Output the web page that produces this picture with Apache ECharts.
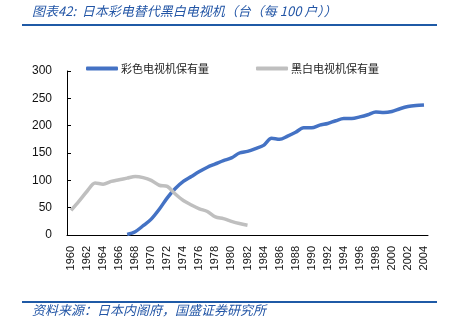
<!DOCTYPE html>
<html><head><meta charset="utf-8">
<script src="https://cdn.jsdelivr.net/npm/echarts@6/dist/echarts.min.js"></script>
<style>html,body{margin:0;padding:0;background:#fff}#c{width:456px;height:332px}</style>
</head><body><div id="c"></div>
<script>
const years = [];
for (let y = 1960; y <= 2004; y++) years.push(String(y));
const colorTV = [null,null,null,null,null,null,null,1,6,17,29,47,68,85,98,107,116,124,130,136,141,150,153,158,164,177,175,181,188,196,196,201,204,209,213,213,216,220,225,224,226,231,235,237,238];
const bwTV = [45,62,80,95,93,98,101,104,107,105,100,91,89,75,63,55,48,43,33,30,25,21,18,null,null,null,null,null,null,null,null,null,null,null,null,null,null,null,null,null,null,null,null,null,null];
const seriesNames = ['彩色电视机保有量','黑白电视机保有量'];
const titleText = '图表42:  日本彩电替代黑白电视机（台（每 100 户））';
const sourceText = '资料来源：日本内阁府，国盛证券研究所';
const FONT = '"Liberation Sans","Noto Sans CJK SC",sans-serif';
const CJK = '"Noto Sans CJK SC",sans-serif';
const chart = echarts.init(document.getElementById('c'));
chart.setOption({
  animation:false,
  textStyle:{fontFamily:FONT},
  grid:{left:67,right:28,top:71,bottom:97,containLabel:false},
  legend:{
    left:81, top:58, itemWidth:32, itemHeight:4, itemGap:47, icon:'roundRect',
    textStyle:{fontSize:11,color:'#222',fontFamily:CJK,padding:[0,0,0,-2]},
    data:seriesNames
  },
  xAxis:{
    type:'category', data:years, boundaryGap:true,
    axisLine:{lineStyle:{color:'#000',width:1}},
    axisTick:{inside:true,length:4,interval:0,lineStyle:{color:'#000'}},
    axisLabel:{interval:1,rotate:90,fontSize:11,color:'#111',margin:11}
  },
  yAxis:{
    type:'value', min:0, max:300, interval:50,
    axisLine:{show:true,lineStyle:{color:'#000',width:1}},
    axisTick:{show:true,inside:true,length:4,lineStyle:{color:'#000'}},
    axisLabel:{fontSize:12,color:'#111',margin:15},
    splitLine:{show:false}
  },
  series:[
    {name:seriesNames[0],type:'line',data:colorTV,smooth:0.3,showSymbol:false,symbol:'none',
     lineStyle:{color:'#4472C4',width:3.5},itemStyle:{color:'#4472C4'}},
    {name:seriesNames[1],type:'line',data:bwTV,smooth:0.3,showSymbol:false,symbol:'none',
     lineStyle:{color:'#BFBFBF',width:3.5},itemStyle:{color:'#BFBFBF'}}
  ],
  graphic:[
    {type:'text',left:32,top:5,style:{text:titleText,font:'italic 13px '+CJK,fill:'#2356A6'}},
    {type:'rect',shape:{x:22,y:24,width:415,height:2},style:{fill:'#1F5AA6'}},
    {type:'rect',shape:{x:22,y:301,width:415,height:2},style:{fill:'#1F5AA6'}},
    {type:'text',left:32,top:304,style:{text:sourceText,font:'italic 13px '+CJK,fill:'#2356A6'}}
  ]
});
</script></body></html>
